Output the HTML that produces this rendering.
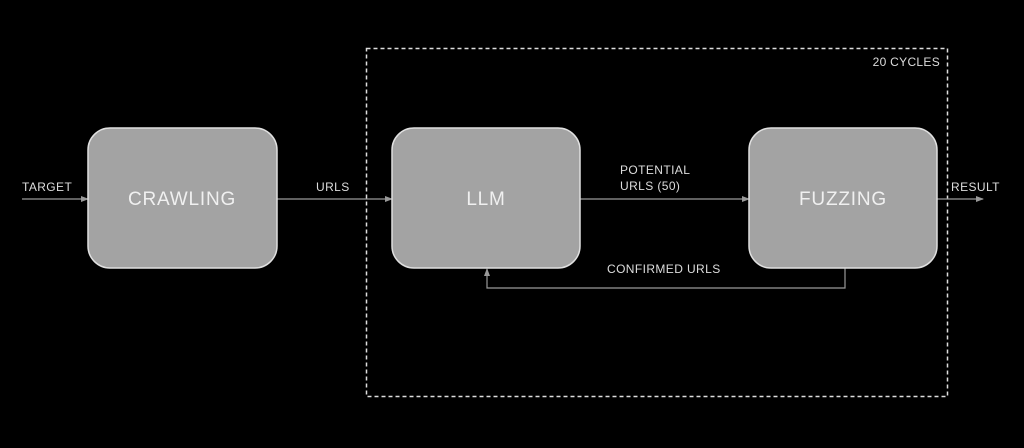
<!DOCTYPE html>
<html><head><style>html,body{margin:0;background:#000;}</style></head><body>
<svg width="1024" height="443" viewBox="0 0 1024 443" xmlns="http://www.w3.org/2000/svg" font-family="Liberation Sans, sans-serif">
<defs><marker id="a" markerWidth="8" markerHeight="8" refX="7" refY="4" orient="auto" markerUnits="userSpaceOnUse"><path d="M0,1 L8,4 L0,7 z" fill="#999"/></marker></defs>
<rect x="0" y="0" width="1024" height="443" fill="#000"/>
<rect x="366.5" y="48.5" width="581" height="348" fill="none" stroke="#ddd" stroke-width="1.5" stroke-dasharray="4,3"/>
<text x="940" y="66" fill="#ddd" font-size="12" text-anchor="end" letter-spacing="0.3">20 CYCLES</text>
<g stroke="#999" stroke-width="1.2" fill="none">
<line x1="22" y1="199" x2="88" y2="199" marker-end="url(#a)"/>
<line x1="277" y1="199" x2="392" y2="199" marker-end="url(#a)"/>
<line x1="580" y1="199" x2="749" y2="199" marker-end="url(#a)"/>
<line x1="937" y1="199" x2="983" y2="199" marker-end="url(#a)"/>
<polyline points="845,268 845,288 487,288 487,269" marker-end="url(#a)"/>
</g>
<g fill="#a3a3a3" stroke="#e0e0e0" stroke-width="1.5">
<rect x="88" y="128" width="189" height="140" rx="22"/>
<rect x="392" y="128" width="188" height="140" rx="22"/>
<rect x="749" y="128" width="188" height="140" rx="22"/>
</g>
<g fill="#f0f0f0" font-size="19" text-anchor="middle" letter-spacing="0.8">
<text x="182" y="205">CRAWLING</text>
<text x="486" y="205">LLM</text>
<text x="843" y="205">FUZZING</text>
</g>
<g fill="#ddd" font-size="12" letter-spacing="0.4">
<text x="22" y="191">TARGET</text>
<text x="316" y="191">URLS</text>
<text x="620" y="174">POTENTIAL</text>
<text x="620" y="190">URLS (50)</text>
<text x="951" y="191">RESULT</text>
<text x="607" y="273">CONFIRMED URLS</text>
</g>
</svg>
</body></html>
